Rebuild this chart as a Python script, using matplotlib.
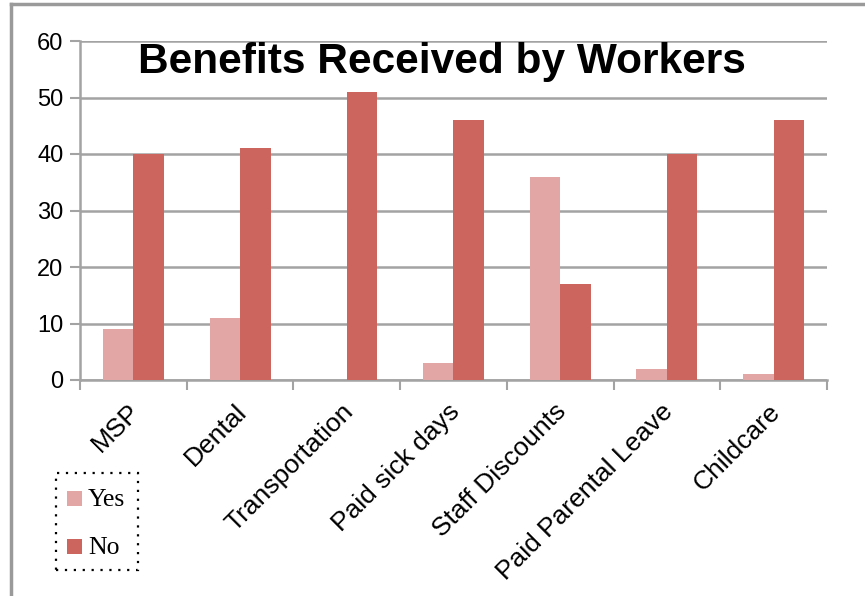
import matplotlib
matplotlib.use("Agg")
import matplotlib.pyplot as plt
import numpy as np
from matplotlib.lines import Line2D
from matplotlib.patches import Rectangle

categories = ["MSP", "Dental", "Transportation", "Paid sick days",
              "Staff Discounts", "Paid Parental Leave", "Childcare"]
yes_values = [9, 11, 0, 3, 36, 2, 1]
no_values = [40, 41, 51, 46, 17, 40, 46]
y_ticks = [0, 10, 20, 30, 40, 50, 60]
series_names = ["Yes", "No"]

yes_color = "#E2A6A4"
no_color = "#CB655E"
grid_color = "#A3A3A3"

W, H = 865, 596
fig = plt.figure(figsize=(W / 100, H / 100), dpi=100)
ax = fig.add_axes([80 / W, 1 - 380 / H, (827 - 80) / W, (380 - 41) / H])

x = np.arange(len(categories))
w = 0.286
ax.bar(x - w / 2, yes_values, width=w, color=yes_color, zorder=3, label=series_names[0])
ax.bar(x + w / 2, no_values, width=w, color=no_color, zorder=3, label=series_names[1])

ax.set_xlim(-0.5, len(categories) - 0.5)
ax.set_ylim(0, 60)
ax.set_yticks(y_ticks)
ax.set_yticklabels([str(v) for v in y_ticks], fontsize=17, family="Liberation Sans")
ax.yaxis.grid(True, color=grid_color, linewidth=1.8, zorder=0)
ax.set_axisbelow(True)

# Category ticks on the boundaries between groups; rotated names sit just left of centre
ax.set_xticks(np.arange(len(categories) + 1) - 0.5)
ax.set_xticklabels([])
ax.set_xticks(x - 0.055, minor=True)
ax.set_xticklabels(categories, minor=True, rotation=45, ha="right",
                   rotation_mode="anchor", fontsize=19, family="Liberation Sans")
ax.tick_params(axis="x", which="major", length=7, width=1.5, color=grid_color, direction="out")
ax.tick_params(axis="x", which="minor", length=0, pad=14)
ax.tick_params(axis="y", length=7, width=1.5, color=grid_color, pad=5)

for side in ["top", "right"]:
    ax.spines[side].set_visible(False)
for side in ["left", "bottom"]:
    ax.spines[side].set_color(grid_color)
    ax.spines[side].set_linewidth(1.8)

fig.text(442 / W, 1 - 62 / H, "Benefits Received by Workers",
         ha="center", va="center", fontsize=30.5, fontweight="bold",
         family="Liberation Sans", zorder=5)

# Legend: dotted frame with square swatches and serif labels
fig.add_artist(Rectangle((56 / W, 1 - 570 / H), (138 - 56) / W, (570 - 473) / H,
                         transform=fig.transFigure, fill=False, edgecolor="black",
                         linewidth=1.6, linestyle=(0, (1, 3))))
for name, color, yc in zip(series_names, [yes_color, no_color], [498.5, 546.5]):
    fig.add_artist(Rectangle((67 / W, 1 - (yc + 7.5) / H), 15 / W, 15 / H,
                             transform=fig.transFigure, facecolor=color, edgecolor="none"))
    fig.text(88 / W, 1 - (yc + 1) / H, name, ha="left", va="center",
             fontsize=18.5, family="Liberation Serif")

# Outer border of the chart area
fig.add_artist(Line2D([11 / W, 11 / W], [0, 1 - 4 / H], color="#9A9A9A", lw=2.5,
                      transform=fig.transFigure))
fig.add_artist(Line2D([11 / W, 1], [1 - 4 / H, 1 - 4 / H], color="#9A9A9A", lw=2.5,
                      transform=fig.transFigure))

fig.savefig("out.png", dpi=100)
